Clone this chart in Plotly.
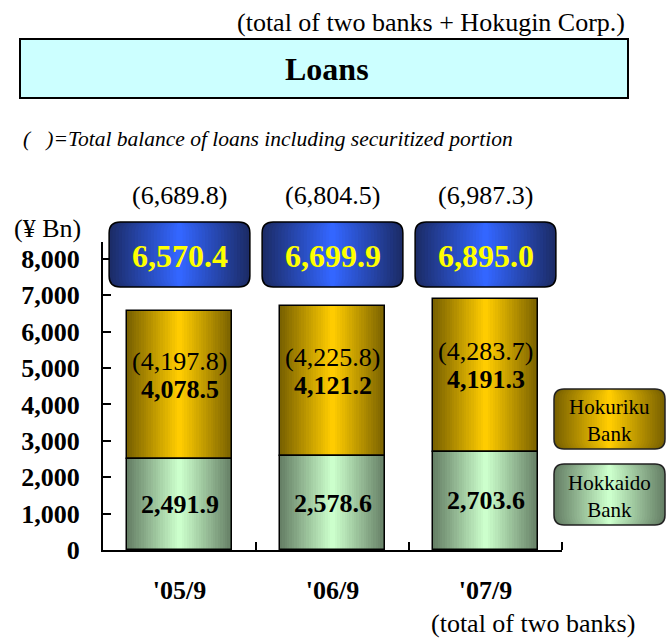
import plotly.graph_objects as go

# ---------------- data ----------------
categories = ["'05/9", "'06/9", "'07/9"]
hokkaido = [2491.9, 2578.6, 2703.6]
hokuriku = [4078.5, 4121.2, 4191.3]
hokuriku_incl = [4197.8, 4225.8, 4283.7]
total = [6570.4, 6699.9, 6895.0]
total_incl = [6689.8, 6804.5, 6987.3]
y_ticks = [0, 1000, 2000, 3000, 4000, 5000, 6000, 7000, 8000]

# ---------------- layout geometry ----------------
W, H = 666, 638
ML, MR, MT, MB = 103, 104, 242, 88
PW, PH = W - ML - MR, H - MT - MB
YMAX = 8467
BAR_W = 0.69
N = 22
FONT = "Liberation Serif, Times New Roman, serif"

def px(xp):   # pixel x -> paper
    return (xp - ML) / PW

def py(yp):   # pixel y -> paper
    return (H - MB - yp) / PH

def mix(c0, c1, t):
    return "rgb(%d,%d,%d)" % tuple(round(a + (b - a) * t) for a, b in zip(c0, c1))

GOLD = ((0x7a, 0x62, 0x00), (0xff, 0xcc, 0x00))
GREEN = ((0x66, 0x80, 0x66), (0xcc, 0xff, 0xcc))
BLUE = ((0x1c, 0x2c, 0x68), (0x33, 0x66, 0xff))

xs = list(range(len(categories)))
fig = go.Figure()

# layered bars emulate a horizontal mirror gradient
for k in range(N):
    t = k / (N - 1)
    w = BAR_W * (1 - k / N)
    fig.add_trace(go.Bar(x=xs, y=hokkaido, width=w, marker_color=mix(*GREEN, t),
                         marker_line_width=0, showlegend=False, hoverinfo="skip"))
    fig.add_trace(go.Bar(x=xs, y=hokuriku, base=hokkaido, width=w,
                         marker_color=mix(*GOLD, t), marker_line_width=0,
                         showlegend=False, hoverinfo="skip"))
# outlines
fig.add_trace(go.Bar(x=xs, y=hokkaido, width=BAR_W, marker_color="rgba(0,0,0,0)",
                     marker_line=dict(color="black", width=1.5), showlegend=False, hoverinfo="skip"))
fig.add_trace(go.Bar(x=xs, y=hokuriku, base=hokkaido, width=BAR_W, marker_color="rgba(0,0,0,0)",
                     marker_line=dict(color="black", width=1.5), showlegend=False, hoverinfo="skip"))

# ---------------- shapes ----------------
def rrect(x0, x1, y0, y1, r_px):
    rx = min(r_px / PW, (x1 - x0) / 2)
    ry = r_px / PH
    return (f"M {x0+rx},{y1} L {x1-rx},{y1} Q {x1},{y1} {x1},{y1-ry} "
            f"L {x1},{y0+ry} Q {x1},{y0} {x1-rx},{y0} L {x0+rx},{y0} "
            f"Q {x0},{y0} {x0},{y0+ry} L {x0},{y1-ry} Q {x0},{y1} {x0+rx},{y1} Z")

shapes = []

def gradient_box(xc, half, y0, y1, cols, r_px=10, lw=1.5, lc="black"):
    for k in range(N):
        t = k / (N - 1)
        h = half * (1 - k / N)
        shapes.append(dict(type="path", xref="paper", yref="paper",
                           path=rrect(xc - h, xc + h, y0, y1, r_px),
                           fillcolor=mix(*cols, t), line=dict(width=0), layer="above"))
    shapes.append(dict(type="path", xref="paper", yref="paper",
                       path=rrect(xc - half, xc + half, y0, y1, r_px),
                       fillcolor="rgba(0,0,0,0)", line=dict(width=lw, color=lc), layer="above"))

# title box
shapes.append(dict(type="rect", xref="paper", yref="paper",
                   x0=px(20), x1=px(628), y0=py(98), y1=py(39),
                   fillcolor="#ccffff", line=dict(color="black", width=2)))

# total boxes (positioned at each category)
n = len(categories)
for i in range(n):
    xc = (i + 0.5) / n
    gradient_box(xc, 0.46 / n, py(287), py(222), BLUE, r_px=11, lw=1.5)

# legend boxes
gradient_box(px(609.5), (665 - 554) / 2 / PW, py(449), py(389), GOLD, r_px=10, lw=1.5, lc="#222")
gradient_box(px(609.5), (665 - 554) / 2 / PW, py(525), py(464), GREEN, r_px=10, lw=1.5, lc="#222")

# ---------------- annotations ----------------
ann = []
def text(x, y, s, size=26, xref="paper", yref="paper", xanchor="center", color="black",
         bold=False, italic=False, yshift=0):
    ann.append(dict(x=x, y=y, xref=xref, yref=yref, text=s, showarrow=False,
                    xanchor=xanchor, yanchor="middle", yshift=yshift,
                    font=dict(family=FONT, size=size, color=color,
                              weight="bold" if bold else "normal",
                              style="italic" if italic else "normal")))

text(px(627), py(22), "(total of two banks + Hokugin Corp.)", size=26, xanchor="right")
text(px(327), py(69), "Loans", size=32, bold=True)
text(px(21), py(139), "(&nbsp;&nbsp;&nbsp;)=Total balance of loans including securitized portion",
     size=21.5, xanchor="left", italic=True)
text(px(47), py(228), "(¥ Bn)", size=26)
text(px(533), py(623), "(total of two banks)", size=26)
text(px(609.5), py(420), "Hokuriku<br>Bank", size=21)
text(px(609.5), py(496), "Hokkaido<br>Bank", size=21)

for i in range(n):
    xc = (i + 0.5) / n
    text(xc, py(195), f"({total_incl[i]:,.1f})", size=26)
    text(xc, py(256), f"{total[i]:,.1f}", size=32, bold=True, color="#ffff00")
    text(xs[i], hokkaido[i] / 2, f"{hokkaido[i]:,.1f}", xref="x", yref="y", bold=True)
    mid = hokkaido[i] + hokuriku[i] / 2
    text(xs[i], mid, f"{hokuriku[i]:,.1f}", xref="x", yref="y", bold=True, yshift=-4)
    text(xs[i], mid, f"({hokuriku_incl[i]:,.1f})", xref="x", yref="y", yshift=24)

fig.update_layout(
    width=W, height=H, margin=dict(l=ML, r=MR, t=MT, b=MB),
    paper_bgcolor="white", plot_bgcolor="white",
    barmode="overlay", bargap=0,
    shapes=shapes, annotations=ann,
    font=dict(family=FONT, color="black"),
    xaxis=dict(range=[-0.5, n - 0.5], tickvals=xs, ticktext=categories, ticks="",
               showline=True, linecolor="black", linewidth=2, showgrid=False, zeroline=False,
               tickfont=dict(family=FONT, size=26, weight="bold"), ticklabelstandoff=16,
               minor=dict(tickvals=[i + 0.5 for i in xs], ticks="inside", ticklen=8,
                          tickwidth=2, tickcolor="black", showgrid=False)),
    yaxis=dict(range=[0, YMAX], tickvals=y_ticks, tickformat=",d", ticks="inside",
               ticklen=8, tickwidth=2, tickcolor="black",
               showline=True, linecolor="black", linewidth=2, showgrid=False, zeroline=False,
               tickfont=dict(family=FONT, size=26, weight="bold"), ticklabelstandoff=16),
)

fig.write_html("out.html", config={"displayModeBar": False},
               post_script="document.body.style.margin='0';document.body.style.overflow='hidden';")
